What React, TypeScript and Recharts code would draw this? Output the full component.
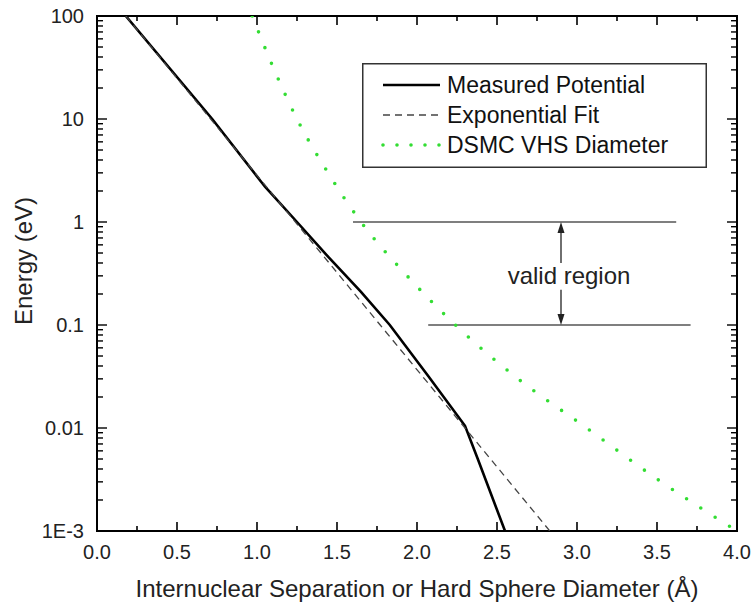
import {
  Legend,
  Line,
  LineChart,
  ReferenceArea,
  ReferenceDot,
  ReferenceLine,
  XAxis,
  YAxis,
} from "recharts";

// separation (Å) vs energy (eV)
const measuredPotential = [
  { r: 0.18, e: 100 },
  { r: 0.72, e: 10 },
  { r: 1.05, e: 2.2 },
  { r: 1.25, e: 1.0 },
  { r: 1.45, e: 0.45 },
  { r: 1.65, e: 0.21 },
  { r: 1.83, e: 0.1 },
  { r: 2.07, e: 0.032 },
  { r: 2.3, e: 0.0105 },
  { r: 2.38, e: 0.005 },
  { r: 2.55, e: 0.001 },
];

const exponentialFit = [
  { r: 0.18, e: 100 },
  { r: 1.77, e: 0.1 },
  { r: 2.83, e: 0.001 },
];

const vhsDiameter = [
  { r: 0.97, e: 100 },
  { r: 1.1, e: 32 },
  { r: 1.25, e: 10 },
  { r: 1.45, e: 2.9 },
  { r: 1.65, e: 1.0 },
  { r: 1.93, e: 0.31 },
  { r: 2.24, e: 0.1 },
  { r: 2.62, e: 0.031 },
  { r: 3.06, e: 0.01 },
  { r: 3.5, e: 0.0032 },
  { r: 4.0, e: 0.001 },
];

const xTicks = [0, 0.25, 0.5, 0.75, 1, 1.25, 1.5, 1.75, 2, 2.25, 2.5, 2.75, 3, 3.25, 3.5, 3.75, 4];
const yDecades = [0.001, 0.01, 0.1, 1, 10, 100];
const yMinorSteps = [2, 3, 4, 5, 6, 7, 8, 9];
const yTicks = [
  ...yDecades,
  ...yDecades.slice(0, -1).flatMap((d) => yMinorSteps.map((m) => d * m)),
].sort((a, b) => a - b);

// valid region markers
const validLow = 0.1;
const validHigh = 1;

// legend order follows this object
const seriesStyles: Record<string, { stroke: string; width: number; dash?: string; cap?: "round" }> = {
  "Measured Potential": { stroke: "#000", width: 2.6 },
  "Exponential Fit": { stroke: "#444", width: 1.3, dash: "7 5" },
  "DSMC VHS Diameter": { stroke: "#33dd33", width: 3.6, dash: "0 14", cap: "round" },
};

const FONT = "'Liberation Sans', Arial, sans-serif";
const PLOT_W = 640;
const PLOT_H = 515;
const GAP = 10;

function XTick(props: any) {
  const { x, y, payload } = props;
  const v = payload.value as number;
  const major = Math.abs(v * 2 - Math.round(v * 2)) < 1e-6;
  const axisY = y - GAP;
  const len = major ? 9 : 5;
  return (
    <g>
      <line x1={x} x2={x} y1={axisY} y2={axisY - len} stroke="#000" strokeWidth={1.6} />
      <line x1={x} x2={x} y1={axisY - PLOT_H} y2={axisY - PLOT_H + len} stroke="#000" strokeWidth={1.6} />
      {major ? (
        <text x={x} y={axisY + 28} textAnchor="middle" fontSize={20} fontFamily={FONT} fill="#222">
          {v.toFixed(1)}
        </text>
      ) : null}
    </g>
  );
}

function YTick(props: any) {
  const { x, y, payload } = props;
  const v = payload.value as number;
  const major = yDecades.some((d) => Math.abs(d - v) / d < 1e-6);
  const axisX = x + GAP;
  const len = major ? 10 : 6;
  return (
    <g>
      <line x1={axisX} x2={axisX + len} y1={y} y2={y} stroke="#000" strokeWidth={1.4} />
      <line x1={axisX + PLOT_W} x2={axisX + PLOT_W - len} y1={y} y2={y} stroke="#000" strokeWidth={1.4} />
      {major ? (
        <text x={axisX - 13} y={y + 7} textAnchor="end" fontSize={20} fontFamily={FONT} fill="#222">
          {v === 0.001 ? "1E-3" : String(v)}
        </text>
      ) : null}
    </g>
  );
}

function Arrow(props: any) {
  const { x1, y1, x2, y2 } = props;
  const dir = Math.sign(y2 - y1);
  return (
    <g>
      <line x1={x1} y1={y1} x2={x2} y2={y2 - dir * 6} stroke="#222" strokeWidth={1.3} />
      <polygon
        points={`${x2},${y2} ${x2 - 3.5},${y2 - dir * 11} ${x2 + 3.5},${y2 - dir * 11}`}
        fill="#222"
      />
    </g>
  );
}

function LegendBox(props: any) {
  const { payload = [] } = props;
  const names = Object.keys(seriesStyles).filter((n) =>
    payload.length ? payload.some((p: any) => p.value === n) : true
  );
  return (
    <svg width={345} height={105} style={{ display: "block" }}>
      <rect x={0.75} y={0.75} width={343.5} height={103.5} fill="#fff" stroke="#333" strokeWidth={1.5} />
      {names.map((name, i) => {
        const s = seriesStyles[name];
        const cy = 22 + i * 30;
        return (
          <g key={name}>
            <line
              x1={21}
              x2={78}
              y1={cy}
              y2={cy}
              stroke={s.stroke}
              strokeWidth={s.width}
              strokeDasharray={s.dash}
              strokeLinecap={s.cap ?? "butt"}
            />
            <text x={85} y={cy + 8} fontSize={23} fontFamily={FONT} fill="#111">
              {name}
            </text>
          </g>
        );
      })}
    </svg>
  );
}

export default function App() {
  return (
    <div style={{ position: "absolute", left: 0, top: 0, width: 751, height: 603, background: "#fff" }}>
      <LineChart width={751} height={603} margin={{ top: 16, right: 14, left: 7, bottom: 12 }}>
        <XAxis
          type="number"
          dataKey="r"
          domain={[0, 4]}
          ticks={xTicks}
          interval={0}
          allowDataOverflow
          axisLine={false}
          tickLine={false}
          tickSize={0}
          tickMargin={GAP}
          tick={<XTick />}
          height={60}
          label={{
            content: () => (
              <text x={417} y={597} textAnchor="middle" fontSize={24} fontFamily={FONT} fill="#222">
                Internuclear Separation or Hard Sphere Diameter (Å)
              </text>
            ),
          }}
        />
        <YAxis
          type="number"
          dataKey="e"
          scale="log"
          domain={[0.001, 100]}
          ticks={yTicks}
          interval={0}
          allowDataOverflow
          axisLine={false}
          tickLine={false}
          tickSize={0}
          tickMargin={GAP}
          tick={<YTick />}
          width={90}
          label={{
            content: () => (
              <text
                x={32}
                y={261}
                transform="rotate(-90 32 261)"
                textAnchor="middle"
                fontSize={24}
                fontFamily={FONT}
                fill="#222"
              >
                Energy (eV)
              </text>
            ),
          }}
        />
        <ReferenceArea x1={0} x2={4} y1={0.001} y2={100} fill="none" stroke="#000" strokeWidth={2} />

        <ReferenceLine segment={[{ x: 1.6, y: validHigh }, { x: 3.62, y: validHigh }]} stroke="#555" strokeWidth={1.5} />
        <ReferenceLine segment={[{ x: 2.07, y: validLow }, { x: 3.71, y: validLow }]} stroke="#555" strokeWidth={1.5} />
        <ReferenceLine segment={[{ x: 2.9, y: 0.4 }, { x: 2.9, y: validHigh }]} shape={<Arrow />} />
        <ReferenceLine segment={[{ x: 2.9, y: 0.22 }, { x: 2.9, y: validLow }]} shape={<Arrow />} />
        <ReferenceDot
          x={2.95}
          y={0.3}
          r={0}
          fill="none"
          stroke="none"
          label={{ value: "valid region", position: "center", fontSize: 24, fontFamily: FONT, fill: "#222" }}
        />

        <Line
          data={measuredPotential}
          dataKey="e"
          name="Measured Potential"
          type="linear"
          stroke="#000"
          strokeWidth={2.6}
          dot={false}
          isAnimationActive={false}
        />
        <Line
          data={exponentialFit}
          dataKey="e"
          name="Exponential Fit"
          type="linear"
          stroke="#444"
          strokeWidth={1.3}
          strokeDasharray="7 5"
          dot={false}
          isAnimationActive={false}
        />
        <Line
          data={vhsDiameter}
          dataKey="e"
          name="DSMC VHS Diameter"
          type="monotone"
          stroke="#33dd33"
          strokeWidth={3.6}
          strokeDasharray="0 17"
          strokeLinecap="round"
          dot={false}
          isAnimationActive={false}
        />
        <Legend
          layout="vertical"
          align="center"
          verticalAlign="middle"
          content={<LegendBox />}
          wrapperStyle={{ left: 362, top: 63, width: 345, height: 105 }}
        />
      </LineChart>
    </div>
  );
}
